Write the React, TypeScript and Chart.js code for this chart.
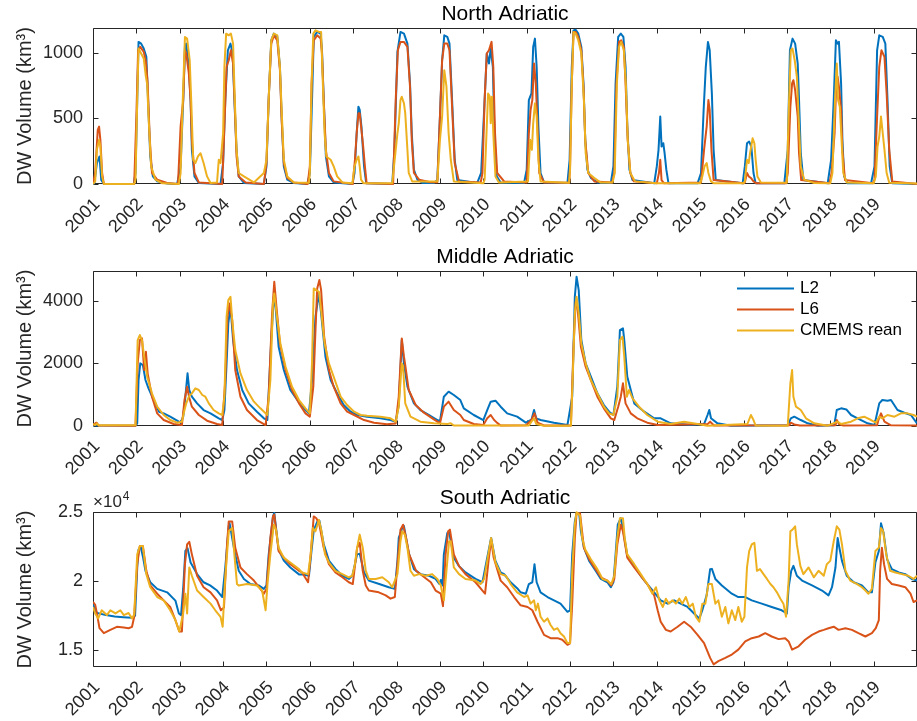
import React, { useEffect, useRef } from "react";
import { Chart, registerables } from "chart.js";

Chart.register(...registerables);

type Pt = [number, number];

// ---------------- data ----------------
const seriesLabels = ["L2", "L6", "CMEMS rean"];
const panelTitles = ["North Adriatic", "Middle Adriatic", "South Adriatic"];
const yAxisTitle = "DW Volume (km³)";
const yearTicks = [2001, 2002, 2003, 2004, 2005, 2006, 2007, 2008, 2009, 2010, 2011, 2012, 2013, 2014, 2015, 2016, 2017, 2018, 2019];
const xRange = [2001, 2020];

const northYTicks = [0, 500, 1000];
const northYTickLabels = ["0", "500", "1000"];
const northYRange = [0, 1190];
const middleYTicks = [0, 2000, 4000];
const middleYTickLabels = ["0", "2000", "4000"];
const middleYRange = [0, 4950];
const southYTicks = [15000, 20000, 25000];
const southYTickLabels = ["1.5", "2", "2.5"];
const southYRange = [13790, 25020];
const southExponent = "4";

const northL2: Pt[] = [
  [2001.00, 0], [2001.03, 5], [2001.09, 160], [2001.15, 210], [2001.19, 30], [2001.25, 0],
  [2001.94, 0], [2001.98, 84], [2002.02, 640], [2002.05, 1084], [2002.11, 1071], [2002.17, 1033], [2002.23, 970], [2002.27, 640], [2002.32, 210], [2002.38, 58], [2002.48, 20], [2002.71, 3],
  [2002.94, 0], [2003.02, 134], [2003.08, 640], [2003.12, 1046], [2003.15, 1071], [2003.21, 894], [2003.25, 640], [2003.28, 261], [2003.34, 58], [2003.44, 8],
  [2003.94, 0], [2004.00, 160], [2004.05, 640], [2004.11, 1020], [2004.17, 1071], [2004.22, 995], [2004.26, 640], [2004.31, 261], [2004.36, 58], [2004.48, 8],
  [2004.94, 0], [2005.00, 134], [2005.05, 640], [2005.11, 1096], [2005.17, 1147], [2005.25, 1122], [2005.31, 894], [2005.35, 514], [2005.40, 134], [2005.48, 33], [2005.63, 8],
  [2005.94, 0], [2006.00, 80], [2006.05, 640], [2006.09, 1122], [2006.17, 1160], [2006.25, 1147], [2006.28, 1020], [2006.32, 640], [2006.37, 210], [2006.44, 58], [2006.55, 12],
  [2006.98, 0], [2007.03, 84], [2007.08, 387], [2007.12, 590], [2007.15, 565], [2007.19, 438], [2007.25, 134], [2007.30, 5],
  [2007.90, 0], [2007.95, 261], [2008.02, 1008], [2008.09, 1160], [2008.17, 1147], [2008.25, 1071], [2008.31, 767], [2008.35, 387], [2008.40, 109], [2008.48, 33], [2008.60, 8],
  [2008.86, 8], [2008.94, 30], [2009.00, 514], [2009.05, 944], [2009.10, 1134], [2009.17, 1122], [2009.22, 1071], [2009.28, 640], [2009.34, 185], [2009.40, 30],
  [2009.86, 8], [2009.95, 84], [2010.03, 640], [2010.08, 995], [2010.13, 919], [2010.17, 1033], [2010.22, 894], [2010.26, 337], [2010.31, 58], [2010.40, 12],
  [2010.94, 8], [2011.00, 109], [2011.05, 640], [2011.11, 691], [2011.15, 1046], [2011.19, 1109], [2011.23, 894], [2011.27, 438], [2011.32, 84], [2011.40, 12],
  [2011.94, 8], [2011.99, 185], [2012.04, 894], [2012.08, 1172], [2012.13, 1177], [2012.19, 1147], [2012.26, 1046], [2012.31, 767], [2012.35, 337], [2012.40, 109], [2012.48, 46], [2012.63, 12],
  [2012.94, 8], [2013.00, 134], [2013.05, 767], [2013.11, 1122], [2013.17, 1147], [2013.23, 1122], [2013.28, 894], [2013.32, 438], [2013.37, 109], [2013.44, 30],
  [2013.94, 5], [2014.00, 134], [2014.04, 261], [2014.08, 514], [2014.11, 286], [2014.15, 311], [2014.18, 235], [2014.22, 109], [2014.27, 5],
  [2014.94, 5], [2015.02, 84], [2015.08, 565], [2015.13, 894], [2015.18, 1084], [2015.22, 1020], [2015.27, 691], [2015.31, 261], [2015.36, 30],
  [2015.98, 5], [2016.03, 134], [2016.08, 311], [2016.13, 324], [2016.18, 286], [2016.23, 84], [2016.28, 5],
  [2016.94, 5], [2017.02, 261], [2017.07, 1020], [2017.13, 1109], [2017.19, 1071], [2017.25, 919], [2017.28, 640], [2017.32, 235], [2017.38, 30],
  [2017.94, 5], [2018.02, 185], [2018.08, 640], [2018.13, 1096], [2018.17, 1071], [2018.20, 1084], [2018.25, 767], [2018.28, 337], [2018.32, 58], [2018.40, 5],
  [2018.94, 5], [2019.02, 134], [2019.08, 1020], [2019.13, 1134], [2019.21, 1122], [2019.27, 1071], [2019.32, 640], [2019.37, 134], [2019.43, 5], [2020.00, 0],
];

const northL6: Pt[] = [
  [2001.00, 0], [2001.05, 84], [2001.11, 413], [2001.14, 438], [2001.17, 337], [2001.21, 84], [2001.25, 0],
  [2001.95, 0], [2002.00, 514], [2002.04, 1020], [2002.09, 1046], [2002.17, 1008], [2002.22, 932], [2002.26, 767], [2002.31, 337], [2002.36, 84], [2002.48, 33], [2002.71, 8],
  [2002.96, 0], [2003.02, 438], [2003.08, 640], [2003.12, 1020], [2003.15, 995], [2003.21, 843], [2003.25, 640], [2003.28, 337], [2003.34, 84], [2003.44, 12],
  [2003.98, 0], [2004.03, 438], [2004.08, 894], [2004.13, 944], [2004.18, 1020], [2004.23, 919], [2004.27, 590], [2004.31, 210], [2004.36, 58], [2004.52, 12],
  [2004.94, 0], [2005.00, 160], [2005.05, 640], [2005.11, 1071], [2005.17, 1134], [2005.25, 1096], [2005.31, 870], [2005.35, 489], [2005.40, 160], [2005.48, 46], [2005.63, 12],
  [2005.95, 0], [2006.00, 134], [2006.04, 767], [2006.09, 1096], [2006.17, 1134], [2006.25, 1109], [2006.28, 995], [2006.32, 640], [2006.37, 261], [2006.44, 84], [2006.55, 20],
  [2006.99, 0], [2007.04, 185], [2007.08, 387], [2007.12, 539], [2007.15, 539], [2007.19, 413], [2007.23, 286], [2007.27, 134], [2007.31, 5],
  [2007.92, 0], [2007.98, 640], [2008.03, 1020], [2008.09, 1084], [2008.17, 1084], [2008.25, 1046], [2008.31, 742], [2008.35, 337], [2008.40, 84], [2008.52, 33], [2008.78, 13],
  [2008.94, 13], [2009.00, 514], [2009.05, 944], [2009.10, 1071], [2009.17, 1071], [2009.22, 1020], [2009.28, 590], [2009.34, 160], [2009.44, 20],
  [2009.94, 12], [2009.98, 84], [2010.03, 640], [2010.08, 995], [2010.13, 1020], [2010.19, 1084], [2010.23, 894], [2010.27, 387], [2010.32, 84], [2010.48, 20],
  [2011.00, 12], [2011.05, 387], [2011.09, 565], [2011.13, 640], [2011.17, 919], [2011.21, 767], [2011.25, 438], [2011.29, 84], [2011.40, 12],
  [2011.98, 10], [2012.00, 134], [2012.04, 767], [2012.08, 1160], [2012.13, 1160], [2012.19, 1122], [2012.26, 1020], [2012.31, 742], [2012.35, 337], [2012.42, 84], [2012.56, 20],
  [2012.97, 12], [2013.02, 84], [2013.07, 767], [2013.13, 1084], [2013.18, 1096], [2013.24, 1046], [2013.28, 767], [2013.33, 337], [2013.39, 84], [2013.47, 20],
  [2014.00, 5], [2014.05, 84], [2014.08, 185], [2014.11, 30], [2014.17, 5],
  [2015.02, 12], [2015.09, 261], [2015.15, 438], [2015.19, 640], [2015.22, 565], [2015.26, 261], [2015.31, 30],
  [2016.00, 5], [2016.03, 12], [2016.08, 84], [2016.12, 58], [2016.17, 46], [2016.23, 20], [2016.30, 5],
  [2016.98, 5], [2017.02, 84], [2017.08, 590], [2017.12, 767], [2017.15, 792], [2017.19, 716], [2017.25, 514], [2017.28, 235], [2017.33, 30],
  [2017.98, 5], [2018.03, 84], [2018.10, 387], [2018.13, 691], [2018.17, 818], [2018.20, 742], [2018.25, 565], [2018.28, 261], [2018.34, 30],
  [2018.98, 5], [2019.02, 33], [2019.08, 514], [2019.13, 894], [2019.18, 1020], [2019.25, 970], [2019.30, 691], [2019.36, 261], [2019.43, 20], [2020.00, 0],
];

const northCM: Pt[] = [
  [2001.00, 0], [2001.05, 20], [2001.09, 261], [2001.14, 337], [2001.17, 286], [2001.21, 58], [2001.25, 0],
  [2001.95, 0], [2001.98, 33], [2002.02, 640], [2002.05, 1033], [2002.11, 995], [2002.17, 957], [2002.22, 818], [2002.25, 760], [2002.28, 514], [2002.34, 134], [2002.44, 33], [2002.60, 5],
  [2002.98, 0], [2003.02, 84], [2003.07, 640], [2003.12, 1122], [2003.17, 1109], [2003.23, 944], [2003.27, 590], [2003.31, 185], [2003.36, 160], [2003.42, 210], [2003.48, 235], [2003.55, 160], [2003.63, 58], [2003.71, 8],
  [2003.86, 12], [2003.90, 185], [2003.94, 160], [2004.00, 387], [2004.03, 894], [2004.07, 1147], [2004.13, 1134], [2004.18, 1147], [2004.23, 1071], [2004.27, 640], [2004.31, 261], [2004.36, 84], [2004.48, 58], [2004.71, 12],
  [2004.94, 84], [2005.00, 185], [2005.05, 640], [2005.11, 1096], [2005.17, 1147], [2005.25, 1134], [2005.31, 894], [2005.35, 565], [2005.40, 185], [2005.48, 58], [2005.63, 12],
  [2005.98, 10], [2006.00, 84], [2006.04, 767], [2006.08, 1147], [2006.13, 1172], [2006.21, 1160], [2006.26, 1160], [2006.30, 767], [2006.34, 387], [2006.38, 210], [2006.48, 185], [2006.55, 134], [2006.63, 58], [2006.75, 12],
  [2006.98, 5], [2007.03, 134], [2007.08, 185], [2007.12, 210], [2007.15, 134], [2007.18, 33], [2007.24, 5],
  [2007.90, 5], [2007.98, 261], [2008.02, 387], [2008.05, 463], [2008.09, 640], [2008.12, 666], [2008.17, 615], [2008.20, 539], [2008.25, 261], [2008.28, 84], [2008.36, 20],
  [2008.94, 20], [2009.00, 337], [2009.05, 514], [2009.10, 868], [2009.15, 742], [2009.20, 387], [2009.25, 185], [2009.32, 20],
  [2010.00, 5], [2010.03, 33], [2010.08, 438], [2010.11, 691], [2010.15, 666], [2010.17, 463], [2010.20, 666], [2010.23, 387], [2010.28, 58], [2010.36, 12],
  [2011.03, 20], [2011.08, 337], [2011.12, 261], [2011.15, 463], [2011.19, 615], [2011.23, 514], [2011.27, 185], [2011.32, 20],
  [2011.98, 10], [2012.00, 109], [2012.04, 767], [2012.08, 1160], [2012.13, 1147], [2012.19, 1096], [2012.26, 995], [2012.32, 640], [2012.36, 235], [2012.42, 84], [2012.56, 46], [2012.70, 12],
  [2012.98, 12], [2013.03, 84], [2013.08, 767], [2013.13, 1046], [2013.18, 1084], [2013.24, 1020], [2013.29, 742], [2013.33, 337], [2013.39, 84], [2013.50, 20],
  [2014.00, 5], [2015.00, 5], [2015.05, 58], [2015.10, 134], [2015.15, 160], [2015.19, 84], [2015.25, 20], [2015.32, 5],
  [2016.00, 5], [2016.03, 20], [2016.08, 185], [2016.12, 160], [2016.15, 235], [2016.21, 349], [2016.25, 311], [2016.28, 185], [2016.32, 58], [2016.40, 12],
  [2016.98, 10], [2017.00, 58], [2017.05, 640], [2017.09, 1020], [2017.13, 1033], [2017.18, 944], [2017.23, 818], [2017.28, 438], [2017.32, 134], [2017.40, 33], [2017.63, 8],
  [2018.00, 5], [2018.05, 84], [2018.11, 640], [2018.15, 919], [2018.18, 640], [2018.22, 590], [2018.26, 337], [2018.30, 84], [2018.38, 12],
  [2019.00, 5], [2019.05, 58], [2019.09, 286], [2019.13, 362], [2019.17, 514], [2019.21, 387], [2019.25, 261], [2019.30, 84], [2019.36, 10], [2020.00, 3],
];

const middleL2: Pt[] = [
  [2001.00, 20], [2001.10, 15], [2001.98, 10], [2002.02, 85], [2002.05, 1468], [2002.09, 2000], [2002.15, 1947], [2002.21, 1468], [2002.28, 1202], [2002.40, 830], [2002.52, 457], [2002.63, 404], [2002.78, 298], [2002.94, 170],
  [2003.02, 106], [2003.08, 298], [2003.13, 936], [2003.18, 1681], [2003.22, 1149], [2003.28, 936], [2003.40, 723], [2003.55, 510], [2003.71, 404], [2003.90, 245], [2003.98, 191],
  [2004.03, 510], [2004.08, 2000], [2004.12, 3277], [2004.17, 3809], [2004.23, 2745], [2004.32, 1787], [2004.44, 1149], [2004.59, 723], [2004.78, 457], [2004.94, 245],
  [2005.02, 191], [2005.11, 2745], [2005.17, 4128], [2005.21, 3800], [2005.28, 2532], [2005.40, 1787], [2005.55, 1149], [2005.71, 830], [2005.86, 564], [2005.98, 404],
  [2006.05, 1468], [2006.13, 3490], [2006.21, 4235], [2006.26, 3596], [2006.36, 2213], [2006.48, 1468], [2006.63, 1043], [2006.78, 670], [2006.94, 457],
  [2007.09, 351], [2007.32, 298], [2007.63, 245], [2007.86, 191], [2007.98, 138],
  [2008.05, 670], [2008.12, 2745], [2008.17, 2000], [2008.25, 1255], [2008.40, 723], [2008.55, 510], [2008.75, 351], [2008.94, 191],
  [2009.00, 150], [2009.09, 936], [2009.20, 1096], [2009.32, 990], [2009.47, 830], [2009.55, 564], [2009.78, 351],
  [2010.00, 191], [2010.09, 510], [2010.17, 777], [2010.28, 809], [2010.40, 617], [2010.55, 404], [2010.78, 298], [2010.98, 106],
  [2011.11, 200], [2011.17, 510], [2011.22, 245], [2011.32, 191], [2011.63, 106], [2011.94, 32],
  [2012.05, 936], [2012.11, 4128], [2012.15, 4766], [2012.20, 4341], [2012.26, 2745], [2012.36, 2000], [2012.48, 1574], [2012.63, 1043], [2012.78, 670], [2012.90, 457],
  [2013.00, 351], [2013.09, 1255], [2013.15, 3064], [2013.22, 3117], [2013.25, 2745], [2013.32, 1574], [2013.48, 723], [2013.71, 457], [2013.94, 245],
  [2014.09, 245], [2014.32, 85], [2014.78, 32], [2015.09, 60], [2015.17, 351], [2015.21, 510], [2015.25, 245], [2015.40, 85], [2015.71, 10],
  [2017.02, 20], [2017.09, 245], [2017.17, 298], [2017.32, 191], [2017.48, 85], [2017.71, 10],
  [2018.09, 20], [2018.15, 510], [2018.25, 564], [2018.37, 530], [2018.48, 351], [2018.63, 245], [2018.86, 85],
  [2019.02, 30], [2019.13, 723], [2019.20, 830], [2019.32, 809], [2019.40, 830], [2019.55, 510], [2019.71, 425], [2019.86, 351], [2020.00, 85],
];

const middleL6: Pt[] = [
  [2001.00, 30], [2001.08, 106], [2001.13, 15], [2001.98, 10], [2002.03, 2000], [2002.08, 2745], [2002.13, 2798], [2002.18, 1787], [2002.22, 2372], [2002.26, 1681], [2002.36, 936], [2002.48, 404], [2002.63, 191], [2002.86, 64],
  [2003.05, 30], [2003.11, 830], [2003.17, 1255], [2003.22, 900], [2003.28, 617], [2003.44, 351], [2003.63, 170], [2003.86, 64], [2003.98, 30],
  [2004.05, 1468], [2004.10, 3490], [2004.15, 3915], [2004.21, 3383], [2004.28, 1787], [2004.40, 936], [2004.55, 510], [2004.78, 191], [2004.98, 30],
  [2005.05, 936], [2005.13, 3596], [2005.18, 4607], [2005.23, 3809], [2005.31, 2639], [2005.44, 1787], [2005.59, 1149], [2005.75, 723], [2005.90, 404],
  [2006.00, 298], [2006.08, 1255], [2006.13, 3064], [2006.17, 4394], [2006.22, 4660], [2006.26, 4341], [2006.33, 2851], [2006.44, 1787], [2006.55, 1255], [2006.71, 723], [2006.86, 457],
  [2007.02, 351], [2007.25, 191], [2007.48, 106], [2007.78, 53], [2007.98, 80],
  [2008.05, 936], [2008.12, 2798], [2008.17, 2213], [2008.20, 1947], [2008.28, 1149], [2008.44, 670], [2008.63, 425], [2008.86, 213],
  [2009.00, 90], [2009.09, 617], [2009.20, 777], [2009.32, 510], [2009.47, 351], [2009.55, 191], [2009.78, 64],
  [2010.00, 30], [2010.09, 245], [2010.17, 351], [2010.25, 191], [2010.32, 100], [2010.40, 15], [2010.98, 20],
  [2011.11, 191], [2011.18, 404], [2011.25, 106], [2011.40, 15],
  [2012.02, 15], [2012.08, 2532], [2012.13, 3968], [2012.17, 3809], [2012.25, 2532], [2012.36, 1894], [2012.48, 1468], [2012.63, 936], [2012.78, 564], [2012.94, 245],
  [2013.02, 191], [2013.11, 617], [2013.17, 936], [2013.22, 1362], [2013.28, 723], [2013.40, 404], [2013.55, 245], [2013.78, 106], [2014.02, 30],
  [2015.17, 60], [2015.23, 138], [2015.32, 15], [2017.05, 20], [2017.09, 106], [2017.17, 50], [2017.30, 15],
  [2018.12, 20], [2018.15, 191], [2018.20, 64], [2018.30, 15], [2019.08, 20], [2019.11, 191], [2019.17, 404], [2019.25, 138], [2019.40, 20], [2020.00, 15],
];

const middleCM: Pt[] = [
  [2001.00, 64], [2001.05, 30], [2001.09, 85], [2001.13, 20], [2001.98, 20], [2002.03, 2745], [2002.08, 2905], [2002.13, 2745], [2002.18, 2213], [2002.25, 1574], [2002.36, 1043], [2002.48, 617], [2002.63, 351], [2002.78, 191], [2002.94, 106],
  [2003.05, 138], [2003.11, 510], [2003.15, 723], [2003.21, 936], [2003.28, 1043], [2003.36, 1202], [2003.44, 1149], [2003.52, 990], [2003.59, 936], [2003.67, 723], [2003.78, 510], [2003.90, 404], [2003.98, 351],
  [2004.03, 936], [2004.08, 3490], [2004.12, 4022], [2004.17, 4128], [2004.21, 3383], [2004.28, 2426], [2004.40, 1681], [2004.55, 1149], [2004.71, 777], [2004.86, 564],
  [2005.02, 351], [2005.09, 1468], [2005.15, 3915], [2005.18, 4235], [2005.25, 3383], [2005.32, 2639], [2005.44, 1894], [2005.59, 1255], [2005.75, 830], [2005.90, 564],
  [2006.00, 404], [2006.05, 2000], [2006.09, 4394], [2006.15, 4341], [2006.21, 4288], [2006.26, 3702], [2006.34, 2639], [2006.44, 2000], [2006.55, 1574], [2006.71, 936], [2006.86, 670],
  [2007.02, 457], [2007.17, 351], [2007.32, 330], [2007.63, 298], [2007.86, 245], [2007.98, 138],
  [2008.05, 617], [2008.12, 2000], [2008.15, 1900], [2008.20, 723], [2008.32, 298], [2008.55, 138], [2008.86, 85],
  [2009.17, 64], [2009.25, 85], [2009.32, 15], [2011.05, 15], [2011.11, 138], [2011.17, 245], [2011.22, 64], [2011.40, 10],
  [2012.02, 10], [2012.06, 1468], [2012.11, 3596], [2012.15, 4128], [2012.20, 3596], [2012.26, 2639], [2012.36, 2000], [2012.48, 1468], [2012.63, 1043], [2012.78, 617], [2012.90, 404],
  [2013.00, 351], [2013.09, 936], [2013.15, 2745], [2013.21, 2851], [2013.25, 2213], [2013.31, 936], [2013.36, 1149], [2013.44, 883], [2013.59, 617], [2013.78, 351],
  [2014.02, 138], [2014.32, 64], [2014.63, 138], [2014.94, 64], [2015.17, 10],
  [2016.09, 64], [2016.17, 351], [2016.23, 191], [2016.28, 15],
  [2017.02, 10], [2017.08, 1362], [2017.12, 1787], [2017.15, 936], [2017.21, 617], [2017.32, 510], [2017.44, 245], [2017.63, 85], [2017.94, 10],
  [2018.17, 138], [2018.25, 64], [2018.48, 138], [2018.63, 245], [2018.78, 298], [2018.94, 191],
  [2019.05, 106], [2019.13, 298], [2019.20, 245], [2019.32, 351], [2019.48, 298], [2019.63, 404], [2019.78, 404], [2019.92, 351], [2020.00, 298],
];

const southL2: Pt[] = [
  [2001.00, 18380], [2001.05, 17900], [2001.10, 17700], [2001.30, 17550], [2001.50, 17450], [2001.70, 17400], [2001.90, 17350], [2001.97, 17500],
  [2002.02, 21000], [2002.05, 22300], [2002.10, 22500], [2002.15, 21800], [2002.21, 20760], [2002.32, 19930], [2002.48, 19450], [2002.71, 19200], [2002.90, 18600], [2002.98, 17670],
  [2003.03, 17550], [2003.08, 19500], [2003.13, 22200], [2003.18, 22400], [2003.25, 21360], [2003.40, 20520], [2003.55, 19930], [2003.70, 19700], [2003.86, 19330], [2003.98, 18860],
  [2004.05, 21000], [2004.13, 23980], [2004.15, 24200], [2004.25, 22400], [2004.36, 20760], [2004.48, 20170], [2004.63, 19800], [2004.82, 19700], [2004.94, 19450],
  [2005.00, 19700], [2005.05, 21900], [2005.15, 24700], [2005.18, 24950], [2005.28, 22300], [2005.40, 21500], [2005.55, 21000], [2005.75, 20500], [2005.82, 20500], [2005.98, 20400],
  [2006.03, 21950], [2006.09, 23700], [2006.17, 24300], [2006.22, 24400], [2006.32, 22700], [2006.44, 21500], [2006.59, 20900], [2006.75, 20400], [2006.90, 20170], [2006.98, 20400],
  [2007.09, 21950], [2007.15, 22000], [2007.25, 20640], [2007.36, 20050], [2007.60, 19800], [2007.82, 19570], [2007.96, 19450],
  [2008.02, 21480], [2008.05, 23140], [2008.13, 23860], [2008.17, 24000], [2008.28, 22070], [2008.40, 20880], [2008.55, 20520], [2008.75, 20400], [2008.90, 20170], [2008.99, 19800],
  [2009.02, 20100], [2009.06, 19700], [2009.09, 21950], [2009.17, 23500], [2009.21, 23600], [2009.32, 21700], [2009.44, 21100], [2009.59, 20640], [2009.82, 20170], [2009.98, 19930],
  [2010.09, 21710], [2010.18, 23140], [2010.28, 21480], [2010.40, 20640], [2010.48, 20520], [2010.63, 19930], [2010.78, 19500], [2010.86, 19200], [2010.98, 19100],
  [2011.05, 19800], [2011.13, 19930], [2011.18, 21240], [2011.23, 19930], [2011.32, 19200], [2011.48, 18860], [2011.63, 18620], [2011.78, 18380], [2011.94, 17790],
  [2012.00, 17900], [2012.05, 21950], [2012.11, 24330], [2012.15, 24930], [2012.21, 24930], [2012.25, 23620], [2012.32, 22430], [2012.44, 21480], [2012.59, 20760], [2012.71, 20170], [2012.86, 19930], [2012.94, 19570],
  [2013.00, 19930], [2013.05, 21950], [2013.10, 24100], [2013.17, 24570], [2013.23, 23620], [2013.32, 21830], [2013.48, 21120], [2013.63, 20400], [2013.78, 19800], [2013.94, 19200],
  [2014.09, 18620], [2014.25, 18380], [2014.40, 18620], [2014.55, 18380], [2014.71, 18140], [2014.86, 17670], [2014.98, 17300],
  [2015.05, 17900], [2015.15, 19000], [2015.23, 20880], [2015.27, 20900], [2015.35, 20170], [2015.50, 19700], [2015.73, 19100], [2015.88, 18860],
  [2016.04, 18860], [2016.19, 18620], [2016.42, 18380], [2016.65, 18140], [2016.88, 17900], [2017.00, 17670],
  [2017.04, 19570], [2017.10, 20760], [2017.15, 21120], [2017.23, 20400], [2017.35, 20050], [2017.58, 19700], [2017.81, 19330], [2017.96, 18980],
  [2018.04, 19570], [2018.12, 21000], [2018.17, 23140], [2018.21, 22430], [2018.27, 21480], [2018.38, 20400], [2018.54, 19930], [2018.73, 19700], [2018.88, 19200], [2018.96, 19200],
  [2019.04, 21360], [2019.12, 22200], [2019.17, 24200], [2019.23, 23500], [2019.31, 21600], [2019.42, 20880], [2019.58, 20640], [2019.73, 20520], [2019.88, 20170], [2020.00, 20050],
];

const southL6: Pt[] = [
  [2001.00, 18500], [2001.05, 18300], [2001.09, 17670], [2001.15, 16600], [2001.25, 16240], [2001.40, 16480], [2001.55, 16700], [2001.71, 16650], [2001.82, 16600], [2001.90, 16700], [2001.95, 17430],
  [2002.02, 21240], [2002.08, 22550], [2002.15, 22550], [2002.23, 20760], [2002.32, 19700], [2002.48, 19100], [2002.63, 18620], [2002.78, 18140], [2002.90, 17190], [2002.99, 16360],
  [2003.05, 16360], [2003.12, 21240], [2003.17, 22670], [2003.22, 22860], [2003.28, 21950], [2003.40, 20400], [2003.55, 19570], [2003.71, 19200], [2003.86, 18620], [2003.95, 17900],
  [2004.02, 18100], [2004.09, 22670], [2004.13, 24330], [2004.21, 24330], [2004.28, 22430], [2004.40, 21000], [2004.55, 20520], [2004.71, 20050], [2004.86, 19450], [2004.94, 19100],
  [2005.00, 19450], [2005.09, 23140], [2005.15, 24700], [2005.18, 24830], [2005.28, 22190], [2005.40, 21710], [2005.55, 21240], [2005.75, 20760], [2005.82, 20640], [2005.96, 19930],
  [2006.02, 21950], [2006.09, 24700], [2006.15, 24570], [2006.22, 24100], [2006.32, 22430], [2006.44, 21240], [2006.59, 20640], [2006.75, 20290], [2006.90, 19930], [2006.99, 19800],
  [2007.09, 22430], [2007.15, 22790], [2007.22, 20760], [2007.29, 19700], [2007.36, 19330], [2007.59, 19200], [2007.75, 18980], [2007.86, 18740], [2007.96, 18860],
  [2008.02, 21240], [2008.09, 23740], [2008.15, 24100], [2008.22, 23140], [2008.29, 21950], [2008.45, 20760], [2008.64, 20290], [2008.79, 19930], [2008.90, 19330],
  [2009.02, 19100], [2009.07, 18200], [2009.13, 21950], [2009.19, 23620], [2009.23, 23740], [2009.32, 21950], [2009.44, 21100], [2009.59, 20520], [2009.82, 19930], [2009.98, 19330],
  [2010.04, 19100], [2010.12, 21480], [2010.18, 23000], [2010.24, 21700], [2010.32, 20880], [2010.40, 20050], [2010.55, 19570], [2010.71, 18860], [2010.86, 18260],
  [2011.02, 18140], [2011.13, 17900], [2011.25, 17070], [2011.40, 16120], [2011.55, 15880], [2011.71, 15880], [2011.82, 15760], [2011.94, 15400],
  [2012.00, 15500], [2012.05, 18380], [2012.11, 23140], [2012.15, 24930], [2012.23, 24930], [2012.32, 22430], [2012.44, 21600], [2012.59, 20880], [2012.71, 20290], [2012.86, 20050], [2012.95, 19700],
  [2013.02, 20170], [2013.09, 22670], [2013.17, 24100], [2013.22, 23620], [2013.32, 21710], [2013.48, 21000], [2013.63, 20400], [2013.78, 19800], [2013.94, 18980],
  [2014.02, 17900], [2014.09, 17070], [2014.21, 16480], [2014.32, 16360], [2014.48, 16710], [2014.63, 17070], [2014.78, 16710], [2014.94, 16120],
  [2015.09, 15520], [2015.23, 14450], [2015.31, 13980], [2015.42, 14210], [2015.58, 14450], [2015.73, 14690], [2015.88, 15050],
  [2016.04, 15640], [2016.19, 15880], [2016.35, 16000], [2016.50, 16240], [2016.65, 16000], [2016.81, 15810], [2016.96, 15880],
  [2017.04, 15640], [2017.12, 15050], [2017.27, 15290], [2017.42, 15760], [2017.58, 16120], [2017.73, 16360], [2017.85, 16480], [2017.96, 16600],
  [2018.08, 16710], [2018.19, 16480], [2018.35, 16600], [2018.50, 16480], [2018.65, 16240], [2018.81, 16000], [2018.96, 16240],
  [2019.05, 16600], [2019.12, 17190], [2019.15, 20760], [2019.19, 22430], [2019.24, 21240], [2019.31, 20170], [2019.42, 19800], [2019.58, 19700], [2019.73, 19570], [2019.85, 19100], [2019.92, 18500], [2020.00, 18620],
];

const southCM: Pt[] = [
  [2001.00, 18140], [2001.05, 17670], [2001.12, 17310], [2001.20, 17900], [2001.32, 17550], [2001.40, 17900], [2001.52, 17670], [2001.63, 17900], [2001.71, 17550], [2001.82, 17700], [2001.90, 17310], [2001.95, 17600],
  [2002.02, 21950], [2002.08, 22550], [2002.15, 22550], [2002.23, 20520], [2002.32, 19570], [2002.48, 18860], [2002.63, 18620], [2002.78, 17900], [2002.90, 17190], [2002.99, 16360],
  [2003.08, 17670], [2003.13, 19100], [2003.17, 17670], [2003.22, 21000], [2003.28, 20400], [2003.40, 19330], [2003.55, 18860], [2003.71, 18380], [2003.82, 17900], [2003.94, 17430], [2003.99, 16710],
  [2004.04, 19800], [2004.09, 21950], [2004.13, 23620], [2004.21, 23860], [2004.26, 21950], [2004.32, 19800], [2004.36, 19700], [2004.55, 19800], [2004.78, 19700], [2004.90, 19330], [2004.98, 17900],
  [2005.03, 20050], [2005.09, 21950], [2005.17, 24100], [2005.22, 23740], [2005.28, 22430], [2005.40, 21710], [2005.55, 21360], [2005.75, 20880], [2005.82, 20640], [2005.96, 20520],
  [2006.02, 21950], [2006.07, 23860], [2006.13, 23620], [2006.21, 24450], [2006.27, 23620], [2006.35, 21950], [2006.44, 21360], [2006.59, 20760], [2006.75, 20520], [2006.90, 20290], [2006.98, 20400],
  [2007.04, 21240], [2007.09, 22430], [2007.15, 23380], [2007.22, 22430], [2007.29, 20760], [2007.36, 20170], [2007.52, 20170], [2007.67, 20290], [2007.82, 19930], [2007.90, 19570], [2007.96, 20050],
  [2008.02, 20520], [2008.09, 22900], [2008.13, 23620], [2008.19, 23380], [2008.25, 22430], [2008.32, 20760], [2008.40, 20400], [2008.52, 20520], [2008.67, 20400], [2008.82, 20520], [2008.94, 20170],
  [2009.02, 19700], [2009.09, 18620], [2009.15, 20760], [2009.21, 22900], [2009.25, 22900], [2009.32, 21000], [2009.44, 20520], [2009.59, 20170], [2009.82, 20050], [2009.94, 19800],
  [2010.02, 20170], [2010.09, 21480], [2010.18, 23140], [2010.28, 21360], [2010.40, 20520], [2010.52, 20400], [2010.63, 19800], [2010.78, 19200], [2010.94, 18860],
  [2011.02, 18980], [2011.09, 18380], [2011.17, 18620], [2011.21, 17900], [2011.26, 18380], [2011.32, 17430], [2011.40, 17070], [2011.48, 17310], [2011.55, 16830], [2011.63, 16480], [2011.71, 16600], [2011.78, 16240], [2011.86, 16000], [2011.94, 15520],
  [2012.00, 15520], [2012.05, 20760], [2012.11, 24100], [2012.15, 25000], [2012.23, 24760], [2012.28, 23140], [2012.35, 22310], [2012.48, 21600], [2012.63, 20880], [2012.75, 20170], [2012.86, 20050], [2012.95, 19800],
  [2013.02, 20400], [2013.09, 23140], [2013.15, 24570], [2013.22, 24570], [2013.26, 23140], [2013.32, 21950], [2013.48, 21240], [2013.63, 20520], [2013.78, 19800], [2013.90, 19100], [2013.98, 19570],
  [2014.06, 18620], [2014.14, 18140], [2014.21, 18740], [2014.28, 18380], [2014.36, 18620], [2014.44, 18380], [2014.52, 18740], [2014.59, 18380], [2014.67, 18860], [2014.75, 18140], [2014.83, 18380], [2014.90, 17430], [2014.98, 17070],
  [2015.05, 18380], [2015.12, 18380], [2015.19, 19800], [2015.27, 19800], [2015.35, 18380], [2015.42, 18620], [2015.50, 17430], [2015.58, 18140], [2015.65, 16950], [2015.73, 17900], [2015.81, 17190], [2015.88, 18140], [2015.96, 17070],
  [2016.02, 17430], [2016.08, 21000], [2016.13, 22190], [2016.19, 22670], [2016.25, 22790], [2016.31, 20760], [2016.38, 20880], [2016.46, 20520], [2016.54, 20170], [2016.62, 19800], [2016.69, 19570], [2016.77, 19200], [2016.85, 18740], [2016.92, 18380], [2016.98, 17430],
  [2017.04, 20050], [2017.08, 23620], [2017.13, 23740], [2017.19, 23980], [2017.23, 22670], [2017.31, 21120], [2017.38, 20520], [2017.50, 21000], [2017.62, 20290], [2017.73, 20760], [2017.85, 20400], [2017.92, 21240],
  [2018.00, 21480], [2018.08, 22900], [2018.15, 23980], [2018.21, 23740], [2018.27, 22670], [2018.35, 20760], [2018.46, 20050], [2018.62, 19800], [2018.73, 19570], [2018.81, 19330], [2018.88, 19100], [2018.96, 19450],
  [2019.04, 22190], [2019.12, 22430], [2019.17, 23860], [2019.22, 23620], [2019.29, 21950], [2019.38, 20760], [2019.50, 20640], [2019.65, 20520], [2019.80, 20400], [2019.92, 20170], [2020.00, 20400],
];

// ---------------- styles / layout ----------------
const seriesColors = ["#0072BD", "#D95319", "#EDB120"];
const FONT = "'Liberation Sans', Arial, Helvetica, sans-serif";
const AXIS_COLOR = "#262626";
const TICK_LEN = 5;

const panels = [
  { title: panelTitles[0], series: [northL2, northL6, northCM], yRange: northYRange, yTicks: northYTicks, yLabels: northYTickLabels, legend: false, exponent: "", top: 0, height: 240, xAxisHeight: 56 },
  { title: panelTitles[1], series: [middleL2, middleL6, middleCM], yRange: middleYRange, yTicks: middleYTicks, yLabels: middleYTickLabels, legend: true, exponent: "", top: 243, height: 239, xAxisHeight: 56 },
  { title: panelTitles[2], series: [southL2, southL6, southCM], yRange: southYRange, yTicks: southYTicks, yLabels: southYTickLabels, legend: false, exponent: southExponent, top: 484, height: 237, xAxisHeight: 54 },
];

const matlabAxes = {
  id: "matlabAxes",
  beforeDatasetsDraw(chart: any) {
    const { ctx, chartArea: ca } = chart;
    const xs = chart.scales.x;
    const ys = chart.scales.y;
    const L = Math.round(ca.left) + 0.5;
    const R = Math.round(ca.right) - 0.5;
    const T = Math.round(ca.top) + 0.5;
    const B = Math.round(ca.bottom) - 0.5;
    ctx.save();
    ctx.strokeStyle = AXIS_COLOR;
    ctx.lineWidth = 1;
    ctx.beginPath();
    ctx.rect(L, T, R - L, B - T);
    xs.ticks.forEach((t: any) => {
      const p = Math.round(xs.getPixelForValue(t.value)) + 0.5;
      ctx.moveTo(p, B);
      ctx.lineTo(p, B - TICK_LEN);
      ctx.moveTo(p, T);
      ctx.lineTo(p, T + TICK_LEN);
    });
    ys.ticks.forEach((t: any) => {
      const p = Math.round(ys.getPixelForValue(t.value)) + 0.5;
      ctx.moveTo(L, p);
      ctx.lineTo(L + TICK_LEN, p);
      ctx.moveTo(R, p);
      ctx.lineTo(R - TICK_LEN, p);
    });
    ctx.stroke();
    ctx.restore();
  },
  afterDraw(chart: any, _args: any, opts: any) {
    const { ctx, chartArea: ca } = chart;
    ctx.save();
    if (opts.legend) {
      ctx.font = `17px ${FONT}`;
      ctx.textBaseline = "middle";
      ctx.textAlign = "left";
      chart.data.datasets.forEach((ds: any, i: number) => {
        const y = Math.round(ca.top + 16.5 + i * 21.4) + 0.5;
        ctx.strokeStyle = ds.borderColor;
        ctx.lineWidth = 2;
        ctx.beginPath();
        ctx.moveTo(ca.right - 180, y);
        ctx.lineTo(ca.right - 123, y);
        ctx.stroke();
        ctx.fillStyle = "#000";
        ctx.fillText(ds.label, ca.right - 117, y);
      });
    }
    if (opts.exponent) {
      ctx.fillStyle = AXIS_COLOR;
      ctx.textBaseline = "alphabetic";
      ctx.textAlign = "left";
      ctx.font = `17px ${FONT}`;
      const base = "×10";
      ctx.fillText(base, ca.left, ca.top - 5);
      const w = ctx.measureText(base).width;
      ctx.font = `12px ${FONT}`;
      ctx.fillText(opts.exponent, ca.left + w + 1, ca.top - 12);
    }
    ctx.restore();
  },
};

function Panel({ cfg }: { cfg: any }) {
  const ref = useRef<HTMLCanvasElement | null>(null);
  useEffect(() => {
    if (!ref.current) return;
    const chart = new Chart(ref.current, {
      type: "line",
      data: {
        datasets: cfg.series.map((pts: Pt[], i: number) => ({
          label: seriesLabels[i],
          data: pts.map(([x, y]) => ({ x, y })),
          borderColor: seriesColors[i],
          backgroundColor: seriesColors[i],
          borderWidth: 2,
          borderJoinStyle: "round",
          pointRadius: 0,
          pointHoverRadius: 0,
          fill: false,
          tension: 0,
          order: 3 - i,
          clip: { left: 0, right: 0, top: 3, bottom: 3 },
        })),
      },
      options: {
        responsive: false,
        animation: false,
        events: [],
        layout: { padding: 0 },
        plugins: {
          legend: { display: false },
          tooltip: { enabled: false },
          title: {
            display: true,
            fullSize: false,
            text: cfg.title,
            color: "#000",
            font: { family: FONT, size: 21, weight: "normal", lineHeight: 24 / 21 },
            padding: { top: 2, bottom: 2 },
          },
          matlabAxes: { legend: cfg.legend, exponent: cfg.exponent },
        } as any,
        scales: {
          x: {
            type: "linear",
            min: xRange[0],
            max: xRange[1],
            grid: { display: false, drawTicks: false },
            border: { display: false },
            afterBuildTicks: (scale: any) => {
              scale.ticks = yearTicks.map((v) => ({ value: v }));
            },
            afterFit: (scale: any) => {
              scale.height = cfg.xAxisHeight;
            },
            ticks: {
              autoSkip: false,
              maxRotation: 45,
              minRotation: 45,
              padding: 10,
              labelOffset: 4,
              color: AXIS_COLOR,
              font: { family: FONT, size: 18 },
              callback: (v: any) => String(v),
            },
          },
          y: {
            type: "linear",
            min: cfg.yRange[0],
            max: cfg.yRange[1],
            grid: { display: false, drawTicks: false },
            border: { display: false },
            afterBuildTicks: (scale: any) => {
              scale.ticks = cfg.yTicks.map((v: number) => ({ value: v }));
            },
            afterFit: (scale: any) => {
              scale.width = 93;
            },
            ticks: {
              padding: 10,
              color: AXIS_COLOR,
              font: { family: FONT, size: 18 },
              callback: (v: any) => {
                const k = cfg.yTicks.indexOf(v);
                return k >= 0 ? cfg.yLabels[k] : "";
              },
            },
            title: {
              display: true,
              text: yAxisTitle,
              color: AXIS_COLOR,
              font: { family: FONT, size: 20 },
              padding: { top: 13, bottom: 0 },
            },
          },
        },
      } as any,
      plugins: [matlabAxes],
    });
    return () => chart.destroy();
  }, [cfg]);
  return (
    <canvas
      ref={ref}
      width={917}
      height={cfg.height}
      style={{ position: "absolute", left: 0, top: cfg.top, width: 917, height: cfg.height }}
    />
  );
}

export default function App() {
  return (
    <div style={{ position: "absolute", left: 0, top: 0, width: 917, height: 721, background: "#fff", overflow: "hidden" }}>
      {panels.map((p, i) => (
        <Panel key={i} cfg={p} />
      ))}
    </div>
  );
}
